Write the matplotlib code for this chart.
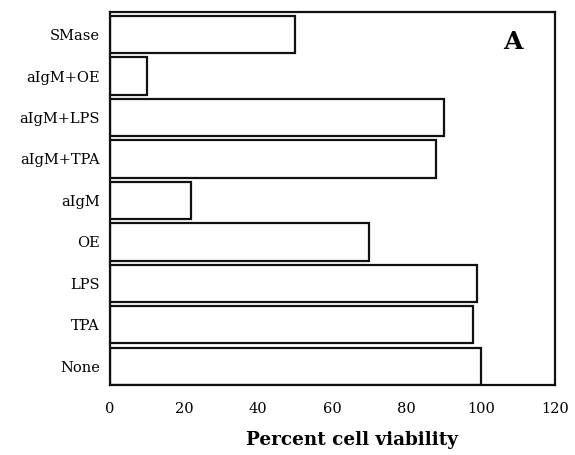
import matplotlib
matplotlib.use("Agg")
import matplotlib.pyplot as plt

categories = ["None", "TPA", "LPS", "OE", "aIgM", "aIgM+TPA", "aIgM+LPS", "aIgM+OE", "SMase"]
viability = [100, 98, 99, 70, 22, 88, 90, 10, 50]
xticks = [0, 20, 40, 60, 80, 100, 120]

plt.rcParams['font.family'] = ['DejaVu Serif']

fig = plt.figure(figsize=(5.75, 4.55), dpi=100)
ax = fig.add_axes([0.191, 0.154, 0.774, 0.82])
ax.barh(range(len(categories)), viability, height=0.9, color='white',
        edgecolor='#111111', linewidth=1.6)
ax.set_xlim(0, 120)
ax.set_ylim(-0.45, 8.55)
ax.set_xticks(xticks)
ax.set_xticklabels([str(t) for t in xticks], fontsize=10.5)
ax.set_yticks(range(len(categories)))
ax.set_yticklabels(categories, fontsize=10.5)
ax.tick_params(axis='y', length=0, pad=7)
ax.tick_params(axis='x', length=0, pad=12)
for s in ax.spines.values():
    s.set_linewidth(1.6)
    s.set_color('#111111')
ax.text(0.905, 0.92, "A", transform=ax.transAxes, fontsize=18, fontweight='bold',
        ha='center', va='center')
fig.text(352/575, 1 - 440/455, "Percent cell viability", fontsize=13.2,
         fontweight='bold', ha='center', va='center')
fig.savefig("out.png", dpi=100)
